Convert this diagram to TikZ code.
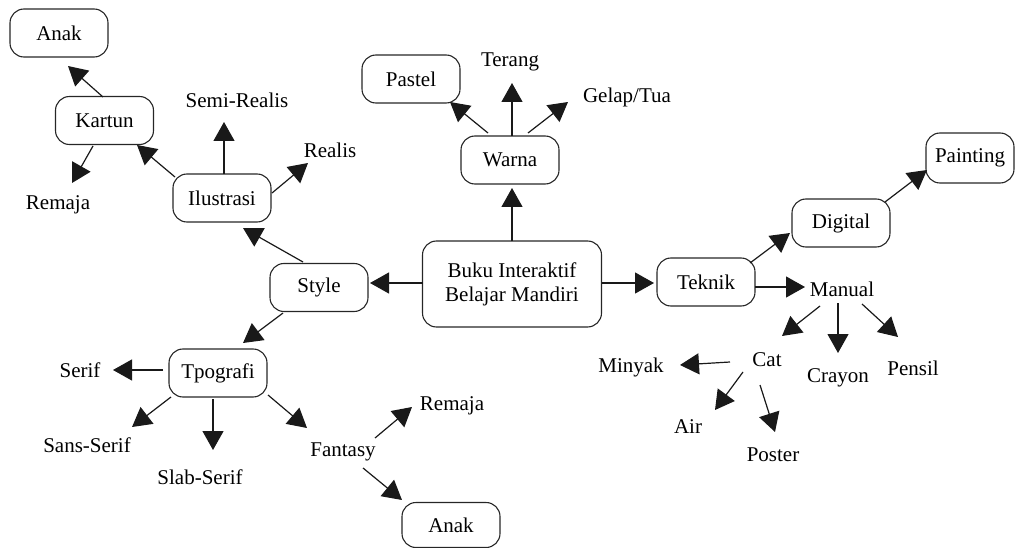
\documentclass[tikz,border=0pt]{standalone}
\usepackage{fontspec}
\setmainfont{Liberation Serif}
\usetikzlibrary{arrows.meta,calc}
\begin{document}
\begin{tikzpicture}[x=1pt,y=-1pt,
  box/.style={draw=black!85,line width=1.1pt,rounded corners=14pt,minimum width=#1,minimum height=48pt,inner sep=0pt,font=\fontsize{21}{24}\selectfont},
  box/.default=98pt,
  lbl/.style={inner sep=0pt,font=\fontsize{21}{24}\selectfont},
  arr/.style={draw=black!90,line width=1.2pt,-{Triangle[length=19pt,width=21pt]}}]
\useasboundingbox (0,0) rectangle (1017,548);
% boxes
\node[box] (anakA) at (59,33) {Anak};
\node[box] (kartun) at (104.5,120.5) {Kartun};
\node[box] (ilustrasi) at (222,198) {Ilustrasi};
\node[box] (style) at (319,287.5) {Style};
\node[box=179pt,minimum height=86pt,align=center] (main) at (512,284) {Buku Interaktif\\Belajar Mandiri};
\node[box] (warna) at (510,160) {Warna};
\node[box] (pastel) at (411,79) {Pastel};
\node[box] (teknik) at (706,282) {Teknik};
\node[box] (digital) at (841,223) {Digital};
\node[box=88pt,minimum height=50pt] (painting) at (970,158) {Painting};
\node[box] (tpografi) at (218,373) {Tpografi};
\node[box,minimum height=45pt] (anakB) at (451,525) {Anak};
% texts
\node[lbl] (remajaA) at (58,205) {Remaja};
\node[lbl] (semi) at (237,100) {Semi-Realis};
\node[lbl] (realis) at (330,150) {Realis};
\node[lbl] (terang) at (510,62) {Terang};
\node[lbl] (gelap) at (627,97) {Gelap/Tua};
\node[lbl] (manual) at (842,289) {Manual};
\node[lbl] (cat) at (767,360) {Cat};
\node[lbl] (crayon) at (838,378) {Crayon};
\node[lbl] (pensil) at (913,368) {Pensil};
\node[lbl] (minyak) at (631,367) {Minyak};
\node[lbl] (air) at (688,427) {Air};
\node[lbl] (poster) at (773,455) {Poster};
\node[lbl] (serif) at (80,370) {Serif};
\node[lbl] (sans) at (87,445) {Sans-Serif};
\node[lbl] (slab) at (200,477) {Slab-Serif};
\node[lbl] (fantasy) at (343,452) {Fantasy};
\node[lbl] (remajaB) at (452,406) {Remaja};
% connectors (offsets from node centres)
\draw[arr] ($(kartun)+(-1.5,-23.5)$) -- ($(anakA)+(9,33)$);
\draw[arr] ($(kartun)+(-11.5,25.5)$) -- ($(remajaA)+(14,-22)$);
\draw[arr] ($(ilustrasi)+(-47,-21)$) -- ($(kartun)+(32.5,24.5)$);
\draw[arr] ($(ilustrasi)+(2,-24)$) -- ($(semi)+(-13,22)$);
\draw[arr] ($(ilustrasi)+(50,-5)$) -- ($(realis)+(-22,13)$);
\draw[arr] ($(style)+(-16,-25.5)$) -- ($(ilustrasi)+(21,30)$);
\draw[arr] ($(main)+(-89,-1)$) -- ($(style)+(51,-4.5)$);
\draw[arr] ($(main)+(0,-43)$) -- ($(warna)+(2,28)$);
\draw[arr] ($(warna)+(-22,-27)$) -- ($(pastel)+(39,23)$);
\draw[arr] ($(warna)+(2,-24)$) -- ($(terang)+(2,21)$);
\draw[arr] ($(warna)+(18,-27)$) -- ($(gelap)+(-59,5)$);
\draw[arr] ($(main)+(90,-1)$) -- ($(teknik)+(-52,1)$);
\draw[arr] ($(teknik)+(44,-19)$) -- ($(digital)+(-51,10)$);
\draw[arr] ($(digital)+(44,-21)$) -- ($(painting)+(-43,12)$);
\draw[arr] ($(teknik)+(49,5)$) -- ($(manual)+(-37,-2)$);
\draw[arr] ($(manual)+(-22,17)$) -- ($(cat)+(15,-24)$);
\draw[arr] ($(manual)+(-4,14)$) -- ($(crayon)+(0,-25)$);
\draw[arr] ($(manual)+(20,15)$) -- ($(pensil)+(-15,-31)$);
\draw[arr] ($(cat)+(-37,2)$) -- ($(minyak)+(49,-2)$);
\draw[arr] ($(cat)+(-24,12)$) -- ($(air)+(27,-17)$);
\draw[arr] ($(cat)+(-7,25)$) -- ($(poster)+(2,-23)$);
\draw[arr] ($(style)+(-36,25.5)$) -- ($(tpografi)+(25,-30)$);
\draw[arr] ($(tpografi)+(-55,-3)$) -- ($(serif)+(33,0)$);
\draw[arr] ($(tpografi)+(-47,24)$) -- ($(sans)+(45,-18)$);
\draw[arr] ($(tpografi)+(-5,26)$) -- ($(slab)+(13,-27)$);
\draw[arr] ($(tpografi)+(50,22)$) -- ($(fantasy)+(-36,-24)$);
\draw[arr] ($(fantasy)+(32,-14)$) -- ($(remajaB)+(-40,1)$);
\draw[arr] ($(fantasy)+(20,16)$) -- ($(anakB)+(-49,-25)$);
\end{tikzpicture}
\end{document}
